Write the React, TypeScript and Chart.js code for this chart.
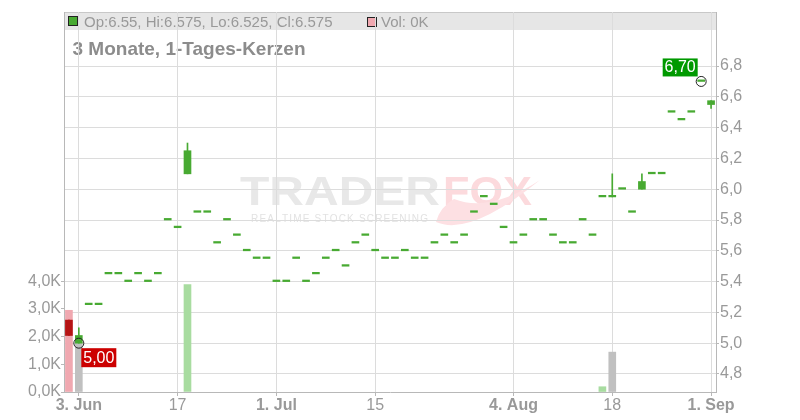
import React, { useEffect, useRef } from "react";
import { Chart, registerables } from "chart.js";

Chart.register(...registerables);

const FONT = "'Liberation Sans', Arial, Helvetica, sans-serif";

// ---- data ----
const dates = [
  "2025-06-02", "2025-06-03", "2025-06-04", "2025-06-05", "2025-06-06", "2025-06-09", "2025-06-10",
  "2025-06-11", "2025-06-12", "2025-06-13", "2025-06-16", "2025-06-17", "2025-06-18", "2025-06-19",
  "2025-06-20", "2025-06-23", "2025-06-24", "2025-06-25", "2025-06-26", "2025-06-27", "2025-06-30",
  "2025-07-01", "2025-07-02", "2025-07-03", "2025-07-04", "2025-07-07", "2025-07-08", "2025-07-09",
  "2025-07-10", "2025-07-11", "2025-07-14", "2025-07-15", "2025-07-16", "2025-07-17", "2025-07-18",
  "2025-07-21", "2025-07-22", "2025-07-23", "2025-07-24", "2025-07-25", "2025-07-28", "2025-07-29",
  "2025-07-30", "2025-07-31", "2025-08-01", "2025-08-04", "2025-08-05", "2025-08-06", "2025-08-07",
  "2025-08-08", "2025-08-11", "2025-08-12", "2025-08-13", "2025-08-14", "2025-08-15", "2025-08-18",
  "2025-08-19", "2025-08-20", "2025-08-21", "2025-08-22", "2025-08-25", "2025-08-26", "2025-08-27",
  "2025-08-28", "2025-08-29", "2025-09-01",
];

const opens = [
  5.15, 5.0, 5.25, 5.25, 5.45, 5.45, 5.4, 5.45, 5.4, 5.45,
  5.8, 5.75, 6.1, 5.85, 5.85, 5.65, 5.8, 5.7, 5.6, 5.55,
  5.55, 5.4, 5.4, 5.55, 5.4, 5.45, 5.55, 5.6, 5.5, 5.65,
  5.7, 5.6, 5.55, 5.55, 5.6, 5.55, 5.55, 5.65, 5.7, 5.65,
  5.7, 5.85, 5.95, 5.9, 5.75, 5.65, 5.7, 5.8, 5.8, 5.7,
  5.65, 5.65, 5.8, 5.7, 5.95, 5.95, 6.0, 5.85, 6.0, 6.1,
  6.1, 6.5, 6.45, 6.5, 6.7, 6.55,
];
const highs = [
  5.15, 5.1, 5.25, 5.25, 5.45, 5.45, 5.4, 5.45, 5.4, 5.45,
  5.8, 5.75, 6.3, 5.85, 5.85, 5.65, 5.8, 5.7, 5.6, 5.55,
  5.55, 5.4, 5.4, 5.55, 5.4, 5.45, 5.55, 5.6, 5.5, 5.65,
  5.7, 5.6, 5.55, 5.55, 5.6, 5.55, 5.55, 5.65, 5.7, 5.65,
  5.7, 5.85, 5.95, 5.9, 5.75, 5.65, 5.7, 5.8, 5.8, 5.7,
  5.65, 5.65, 5.8, 5.7, 5.95, 6.1, 6.0, 5.85, 6.1, 6.1,
  6.1, 6.5, 6.45, 6.5, 6.7, 6.575,
];
const lows = [
  5.05, 5.0, 5.25, 5.25, 5.45, 5.45, 5.4, 5.45, 5.4, 5.45,
  5.8, 5.75, 6.1, 5.85, 5.85, 5.65, 5.8, 5.7, 5.6, 5.55,
  5.55, 5.4, 5.4, 5.55, 5.4, 5.45, 5.55, 5.6, 5.5, 5.65,
  5.7, 5.6, 5.55, 5.55, 5.6, 5.55, 5.55, 5.65, 5.7, 5.65,
  5.7, 5.85, 5.95, 5.9, 5.75, 5.65, 5.7, 5.8, 5.8, 5.7,
  5.65, 5.65, 5.8, 5.7, 5.95, 5.95, 6.0, 5.85, 6.0, 6.1,
  6.1, 6.5, 6.45, 6.5, 6.7, 6.525,
];
const closes = [
  5.05, 5.05, 5.25, 5.25, 5.45, 5.45, 5.4, 5.45, 5.4, 5.45,
  5.8, 5.75, 6.25, 5.85, 5.85, 5.65, 5.8, 5.7, 5.6, 5.55,
  5.55, 5.4, 5.4, 5.55, 5.4, 5.45, 5.55, 5.6, 5.5, 5.65,
  5.7, 5.6, 5.55, 5.55, 5.6, 5.55, 5.55, 5.65, 5.7, 5.65,
  5.7, 5.85, 5.95, 5.9, 5.75, 5.65, 5.7, 5.8, 5.8, 5.7,
  5.65, 5.65, 5.8, 5.7, 5.95, 5.95, 6.0, 5.85, 6.05, 6.1,
  6.1, 6.5, 6.45, 6.5, 6.7, 6.575,
];
// volume in thousands
const volumesK = [
  2.95, 1.8, 0, 0, 0, 0, 0, 0, 0, 0,
  0, 0, 3.88, 0, 0, 0, 0, 0, 0, 0,
  0, 0, 0, 0, 0, 0, 0, 0, 0, 0,
  0, 0, 0, 0, 0, 0, 0, 0, 0, 0,
  0, 0, 0, 0, 0, 0, 0, 0, 0, 0,
  0, 0, 0, 0, 0.19, 1.44, 0, 0, 0, 0,
  0, 0, 0, 0, 0, 0,
];

const xTickIndex = [1, 11, 21, 31, 45, 55, 65];
const xTickText = ["3. Jun", "17", "1. Jul", "15", "4. Aug", "18", "1. Sep"];
const priceTicks = [4.8, 5.0, 5.2, 5.4, 5.6, 5.8, 6.0, 6.2, 6.4, 6.6, 6.8];
const volTicks = [0, 1, 2, 3, 4];
const priceMin = 4.683;
const priceMax = 7.151;
const volMax = 13.72;

const titleText = "3 Monate, 1-Tages-Kerzen";

// ---- colours ----
const GREEN = "#48aa32";
const RED = "#b51414";
const PINK = "#f0a8b0";
const LGREEN = "#a8dca0";
const GRAY = "#c0c0c0";
const GRID = "#dcdcdc";
const AXIS = "#b8b8b8";
const TXT = "#999999";

const last = opens.length - 1;
const legendText = `Op:${opens[last]}, Hi:${highs[last]}, Lo:${lows[last]}, Cl:${closes[last]}`;
const volText = `Vol: ${Math.round(volumesK[last])}K`;

const lowIdx = lows.indexOf(Math.min(...lows));
const highIdx = highs.indexOf(Math.max(...highs));

const fmt = (v: number, d: number) => v.toFixed(d).replace(".", ",");

const backgroundPlugin = {
  id: "bgDecor",
  beforeDraw(chart: any) {
    const { ctx, chartArea: a } = chart;
    ctx.save();
    // legend band
    ctx.fillStyle = "#e6e6e6";
    ctx.fillRect(a.left, a.top, a.right - a.left, 18);
    ctx.strokeStyle = "#c8c8c8";
    ctx.lineWidth = 1;
    ctx.beginPath();
    ctx.moveTo(a.left, a.top + 0.5);
    ctx.lineTo(a.right, a.top + 0.5);
    ctx.stroke();

    // legend squares
    ctx.fillStyle = GREEN;
    ctx.fillRect(a.left + 4.5, a.top + 4.5, 9, 9);
    ctx.strokeStyle = "#222";
    ctx.strokeRect(a.left + 4.5, a.top + 4.5, 9, 9);
    ctx.fillStyle = PINK;
    ctx.fillRect(a.left + 303.5, a.top + 5.5, 9, 9);
    ctx.strokeRect(a.left + 303.5, a.top + 5.5, 9, 9);

    ctx.font = `15px ${FONT}`;
    ctx.fillStyle = TXT;
    ctx.textBaseline = "alphabetic";
    ctx.textAlign = "left";
    ctx.fillText(legendText, a.left + 20, a.top + 14.5);
    ctx.fillText(volText, a.left + 317, a.top + 14.5);

    // title
    ctx.font = `bold 19px ${FONT}`;
    ctx.fillStyle = "#8c8c8c";
    ctx.fillText(titleText, a.left + 8.5, a.top + 43);

    // watermark
    const x0 = a.left + 176;
    const base = a.top + 193;
    ctx.font = `bold 41px ${FONT}`;
    ctx.fillStyle = "#e8e8e8";
    let w = ctx.measureText("TRADER").width;
    ctx.save();
    ctx.translate(x0, base);
    ctx.scale(200 / w, 1);
    ctx.fillText("TRADER", 0, 0);
    ctx.restore();
    w = ctx.measureText("FOX").width;
    ctx.save();
    ctx.translate(x0 + 203, base);
    ctx.scale(89 / w, 1);
    ctx.fillStyle = "#fcdadd";
    ctx.fillText("FOX", 0, 0);
    ctx.restore();

    // fox tail
    ctx.fillStyle = "#fde0e3";
    ctx.beginPath();
    ctx.moveTo(x0 + 196, base + 17);
    ctx.quadraticCurveTo(x0 + 230, base + 32, x0 + 300, base - 25);
    ctx.quadraticCurveTo(x0 + 250, base + 8, x0 + 214, base - 6);
    ctx.quadraticCurveTo(x0 + 200, base + 2, x0 + 196, base + 17);
    ctx.fill();

    // tagline
    const tag = "REALTIME STOCK SCREENING";
    ctx.font = `10px ${FONT}`;
    ctx.fillStyle = "#e2e2e2";
    const natural = ctx.measureText(tag).width;
    const extra = (176 - natural) / (tag.length - 1);
    let cx = x0 + 11;
    for (const ch of tag) {
      ctx.fillText(ch, cx, base + 17);
      cx += ctx.measureText(ch).width + extra;
    }
    ctx.restore();
  },
};

const markerLabelPlugin = {
  id: "markerLabels",
  afterDatasetsDraw(chart: any) {
    const { ctx } = chart;
    const meta = chart.getDatasetMeta(3);
    const pLow = meta.data[lowIdx];
    const pHigh = meta.data[highIdx];
    ctx.save();
    ctx.font = `16px ${FONT}`;
    ctx.textBaseline = "middle";
    ctx.textAlign = "center";
    if (pLow) {
      const bx = pLow.x + 2.5;
      const by = pLow.y + 5;
      ctx.fillStyle = "#cc0000";
      ctx.fillRect(bx, by, 35, 19);
      ctx.fillStyle = "#ffffff";
      ctx.fillText(fmt(lows[lowIdx], 2), bx + 17.5, by + 10);
    }
    if (pHigh) {
      const bx = pHigh.x - 3.5 - 35;
      const by = pHigh.y - 5 - 18;
      ctx.fillStyle = "#009900";
      ctx.fillRect(bx, by, 35, 18);
      ctx.fillStyle = "#ffffff";
      ctx.fillText(fmt(highs[highIdx], 2), bx + 17.5, by + 9.5);
    }
    ctx.restore();
  },
};

export default function App() {
  const ref = useRef<HTMLCanvasElement>(null);

  useEffect(() => {
    if (!ref.current) return;
    Chart.defaults.font.family = FONT;

    const bodyColors = opens.map((o, i) => (closes[i] < o ? RED : GREEN));
    const volColors = closes.map((c, i) => {
      const prev = i === 0 ? opens[0] : closes[i - 1];
      return c < prev ? PINK : c > prev ? LGREEN : GRAY;
    });
    const markerData = dates.map((_, i) =>
      i === lowIdx ? lows[i] : i === highIdx ? highs[i] : null
    );

    const chart = new Chart(ref.current, {
      type: "bar",
      data: {
        labels: dates,
        datasets: [
          {
            label: "Volumen",
            data: volumesK.map((v) => (v > 0 ? v : null)),
            yAxisID: "yVol",
            backgroundColor: volColors,
            barThickness: 7,
            grouped: false,
            order: 4,
          } as any,
          {
            label: "Docht",
            data: lows.map((l, i) => (highs[i] > l ? [l, highs[i]] : null)),
            yAxisID: "y",
            backgroundColor: bodyColors,
            barThickness: 1,
            grouped: false,
            order: 3,
          } as any,
          {
            label: "Kerze",
            data: opens.map((o, i) => [o, closes[i]]),
            yAxisID: "y",
            backgroundColor: bodyColors,
            barThickness: 7,
            minBarLength: 1.6,
            grouped: false,
            order: 2,
          } as any,
          {
            type: "line",
            label: "Extrem",
            data: markerData,
            yAxisID: "y",
            showLine: false,
            pointRadius: 5,
            pointBorderWidth: 1,
            pointBorderColor: "#222222",
            pointBackgroundColor: "rgba(0,0,0,0)",
            order: 1,
          } as any,
        ],
      },
      options: {
        responsive: false,
        animation: false,
        events: [],
        layout: { padding: { top: 12, left: 0, right: 0, bottom: 0 } },
        plugins: { legend: { display: false }, tooltip: { enabled: false } },
        scales: {
          x: {
            type: "category",
            offset: true,
            grid: { offset: false, color: GRID, tickLength: 4, tickColor: AXIS },
            border: { color: AXIS },
            ticks: {
              autoSkip: false,
              maxRotation: 0,
              padding: 0,
              color: TXT,
              font: (c: any) => {
                const k = xTickIndex.indexOf(c.tick ? c.tick.value : -1);
                const t = k >= 0 ? xTickText[k] : "";
                return { family: FONT, size: 16, weight: t.includes(".") ? "bold" : "normal" };
              },
              callback: (v: any) => {
                const k = xTickIndex.indexOf(Number(v));
                return k >= 0 ? xTickText[k] : "";
              },
            },
            afterBuildTicks: (s: any) => {
              s.ticks = xTickIndex.map((v) => ({ value: v }));
            },
            afterFit: (s: any) => {
              s.height = 28;
            },
          },
          y: {
            type: "linear",
            position: "right",
            min: priceMin,
            max: priceMax,
            grid: { color: GRID, tickLength: 3, tickColor: AXIS },
            border: { color: AXIS },
            ticks: {
              padding: 1,
              color: TXT,
              font: { size: 16 },
              callback: (v: any) => fmt(Number(v), 1),
            },
            afterBuildTicks: (s: any) => {
              s.ticks = priceTicks.map((v) => ({ value: v }));
            },
            afterFit: (s: any) => {
              s.width = 84;
            },
          },
          yVol: {
            type: "linear",
            position: "left",
            min: 0,
            max: volMax,
            grid: { drawOnChartArea: false, tickLength: 3, color: AXIS },
            border: { color: AXIS },
            ticks: {
              padding: 0,
              color: TXT,
              font: { size: 16 },
              callback: (v: any) => fmt(Number(v), 1) + "K",
            },
            afterBuildTicks: (s: any) => {
              s.ticks = volTicks.map((v) => ({ value: v }));
            },
            afterFit: (s: any) => {
              s.width = 64;
            },
          },
        },
      } as any,
      plugins: [backgroundPlugin, markerLabelPlugin],
    });

    return () => chart.destroy();
  }, []);

  return (
    <div style={{ position: "fixed", left: 0, top: 0, width: 800, height: 420, background: "#fff" }}>
      <canvas ref={ref} width={800} height={420} style={{ display: "block" }} />
    </div>
  );
}
